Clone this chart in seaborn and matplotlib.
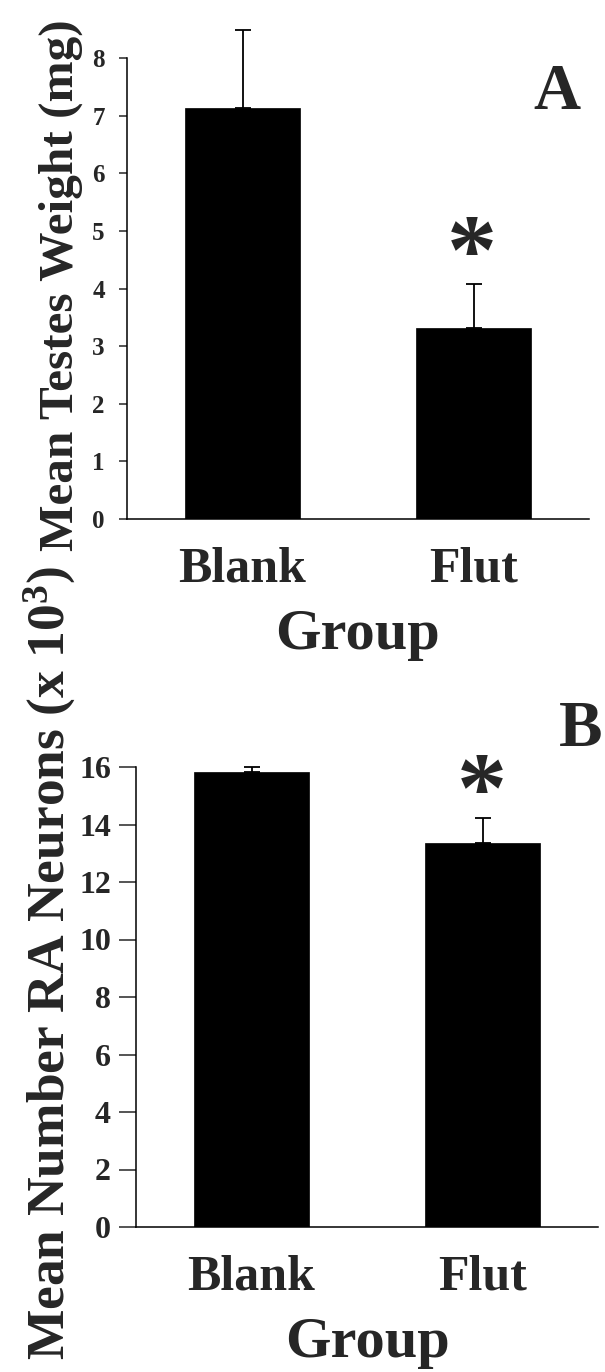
import matplotlib
matplotlib.use("Agg")
import matplotlib.pyplot as plt
import seaborn as sns
import numpy as np

groups = ["Blank", "Flut"]
testes_mean = [7.13, 3.32]
testes_sem = [1.35, 0.76]
neurons_mean = [15.83, 13.36]
neurons_sem = [0.17, 0.87]
testes_ticks = [0, 1, 2, 3, 4, 5, 6, 7, 8]
neuron_ticks = [0, 2, 4, 6, 8, 10, 12, 14, 16]

sns.set_style("white")
plt.rcParams["font.family"] = ["Liberation Serif", "DejaVu Serif"]
plt.rcParams["font.weight"] = "bold"
plt.rcParams["mathtext.fontset"] = "custom"
plt.rcParams["mathtext.rm"] = "Liberation Serif:bold"
plt.rcParams["mathtext.default"] = "rm"

W, H = 605, 1372
fig = plt.figure(figsize=(W / 100, H / 100), dpi=100)
ax1 = fig.add_axes([127 / W, 853 / H, 462 / W, 461 / H])
ax2 = fig.add_axes([136 / W, 145 / H, 462 / W, 460 / H])


def panel(ax, means, sems, ticks, ylabel, letter, tick_fs, tick_len, tick_pad,
          ylabel_fs, ylabel_xy, letter_xy, star_xy):
    sns.barplot(x=groups, y=means, color="black", saturation=1, width=0.5,
                errorbar=None, edgecolor="black", linewidth=0.5, ax=ax)
    ax.errorbar(x=[0, 1], y=means, yerr=[[0, 0], sems], fmt="none",
                ecolor="black", elinewidth=1.3, capsize=5.5, capthick=1.3,
                clip_on=False)
    ax.set_xlim(-0.5, 1.5)
    ax.set_ylim(ticks[0], ticks[-1])
    ax.set_yticks(ticks)
    ax.set_yticklabels([str(t) for t in ticks], fontsize=tick_fs, fontweight="bold")
    ax.tick_params(axis="y", direction="out", length=tick_len, width=1.1,
                   pad=tick_pad, left=True)
    ax.tick_params(axis="x", length=0, pad=20, labelsize=36)
    for lab in ax.get_xticklabels():
        lab.set_fontweight("bold")
    for s in ["top", "right"]:
        ax.spines[s].set_visible(False)
    for s in ["left", "bottom"]:
        ax.spines[s].set_linewidth(1.1)
        ax.spines[s].set_color("black")
    ax.set_xlabel("Group", fontsize=42, fontweight="bold", labelpad=12)
    ax.set_ylabel(ylabel, fontsize=ylabel_fs, fontweight="bold", va="center",
                  ha="center")
    ax.yaxis.set_label_coords(ylabel_xy[0] / W, 1 - ylabel_xy[1] / H,
                              transform=fig.transFigure)
    fig.text(letter_xy[0] / W, 1 - letter_xy[1] / H, letter, fontsize=47,
             fontweight="bold", ha="center", va="center")
    fig.text(star_xy[0] / W, 1 - star_xy[1] / H, "*", fontsize=72,
             fontweight="bold", ha="center", va="center")


panel(ax1, testes_mean, testes_sem, testes_ticks, "Mean Testes Weight (mg)", "A",
      18, 6, 10, 35.5, (61, 285), (557, 93), (472, 258))
panel(ax2, neurons_mean, neurons_sem, neuron_ticks,
      "Mean Number RA Neurons (x 10$^{3}$)", "B",
      23, 12, 6, 38.5, (50, 963), (581, 730), (482, 796))

fig.savefig("out.png", dpi=100)
